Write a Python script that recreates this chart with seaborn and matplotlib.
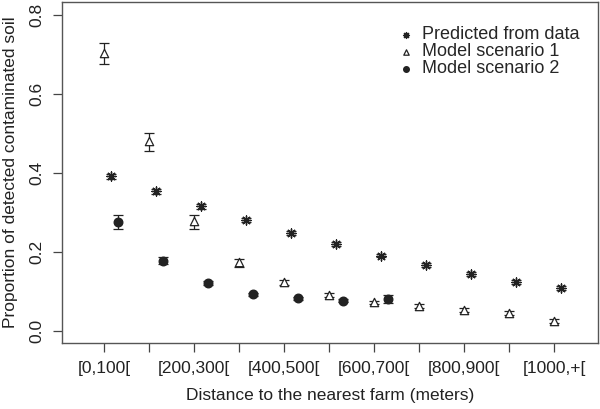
import numpy as np
import pandas as pd
import seaborn as sns
import matplotlib.pyplot as plt

# distance classes (every other label shown on the axis, as in the original)
bins = ['[0,100[', '[100,200[', '[200,300[', '[300,400[', '[400,500[', '[500,600[',
        '[600,700[', '[700,800[', '[800,900[', '[900,1000[', '[1000,+[']
tick_labels = ['[0,100[', '', '[200,300[', '', '[400,500[', '',
               '[600,700[', '', '[800,900[', '', '[1000,+[']

# predicted from data
pred = [0.391, 0.353, 0.315, 0.280, 0.248, 0.218, 0.190, 0.166, 0.143, 0.124, 0.107]
pred_lo = [0.385, 0.347, 0.309, 0.274, 0.243, 0.213, 0.185, 0.161, 0.138, 0.119, 0.102]
pred_hi = [0.397, 0.359, 0.321, 0.286, 0.253, 0.223, 0.195, 0.171, 0.148, 0.129, 0.112]

# model scenario 1
sc1 = [0.703, 0.480, 0.277, 0.174, 0.122, 0.091, 0.071, 0.061, 0.053, 0.045, 0.023]
sc1_lo = [0.674, 0.454, 0.258, 0.160, 0.115, 0.086, 0.066, 0.056, 0.048, 0.040, 0.018]
sc1_hi = [0.727, 0.501, 0.292, 0.182, 0.128, 0.096, 0.076, 0.066, 0.058, 0.050, 0.028]

# model scenario 2 (only the first seven classes)
sc2 = [0.275, 0.177, 0.120, 0.092, 0.082, 0.075, 0.080]
sc2_lo = [0.258, 0.169, 0.115, 0.088, 0.078, 0.071, 0.070]
sc2_hi = [0.292, 0.185, 0.125, 0.096, 0.086, 0.079, 0.091]

INK = '#222222'


def frame(vals, lo, hi, shift):
    pos = np.arange(len(vals)) + shift
    return pd.DataFrame({'pos': pos, 'y': vals,
                         'lo': np.array(vals) - np.array(lo),
                         'hi': np.array(hi) - np.array(vals)})


sns.set_style('ticks')
plt.rcParams['font.family'] = ['Liberation Sans', 'DejaVu Sans']

fig = plt.figure(figsize=(6.0, 4.09), dpi=100)
ax = fig.add_axes([0.103, 0.161, 0.894, 0.834])

series = [
    (frame(sc1, sc1_lo, sc1_hi, 0.0), '^', 'none', 'Model scenario 1', 36),
    (frame(pred, pred_lo, pred_hi, 0.15), (8, 2, 0), INK, 'Predicted from data', 42),
    (frame(sc2, sc2_lo, sc2_hi, 0.30), 'o', INK, 'Model scenario 2', 38),
]
for df, marker, face, label, size in series:
    ax.errorbar(df['pos'], df['y'], yerr=[df['lo'], df['hi']], fmt='none',
                ecolor=INK, elinewidth=0.9, capsize=3.4, capthick=0.9, zorder=2)
    if face == 'none':
        sns.scatterplot(x=df['pos'], y=df['y'], marker=marker, s=size, ax=ax,
                        facecolor='white', edgecolor=INK, linewidth=0.9,
                        label=label, zorder=3)
    else:
        sns.scatterplot(x=df['pos'], y=df['y'], marker=marker, s=size, ax=ax,
                        color=INK, edgecolor=INK, linewidth=1.0,
                        label=label, zorder=3)

h, l = ax.get_legend_handles_labels()
order = [l.index('Predicted from data'), l.index('Model scenario 1'), l.index('Model scenario 2')]
ax.legend([h[i] for i in order], [l[i] for i in order], loc='upper left',
          bbox_to_anchor=(0.612, 0.95), frameon=False, fontsize=13,
          handletextpad=0.35, labelspacing=0.0, markerscale=0.65,
          borderaxespad=0, handlelength=1.0)

ax.set_xlim(-0.94, 10.98)
ax.set_ylim(-0.032, 0.832)
ax.set_xticks(np.arange(len(bins)))
ax.set_xticklabels(tick_labels)
ax.set_yticks([0.0, 0.2, 0.4, 0.6, 0.8])
ax.set_yticklabels(['0.0', '0.2', '0.4', '0.6', '0.8'], rotation=90, va='center')
ax.tick_params(length=6.5, width=0.9, color='#444444', labelsize=12.5,
               labelcolor=INK, pad=6)
for sp in ax.spines.values():
    sp.set_visible(True)
    sp.set_color('#555555')
    sp.set_linewidth(1.0)

ax.set_xlabel('Distance to the nearest farm (meters)', fontsize=12.5, color=INK, labelpad=9)
ax.set_ylabel('Proportion of detected contaminated soil', fontsize=12.5, color=INK, labelpad=8)

fig.savefig('out.png', dpi=100)
